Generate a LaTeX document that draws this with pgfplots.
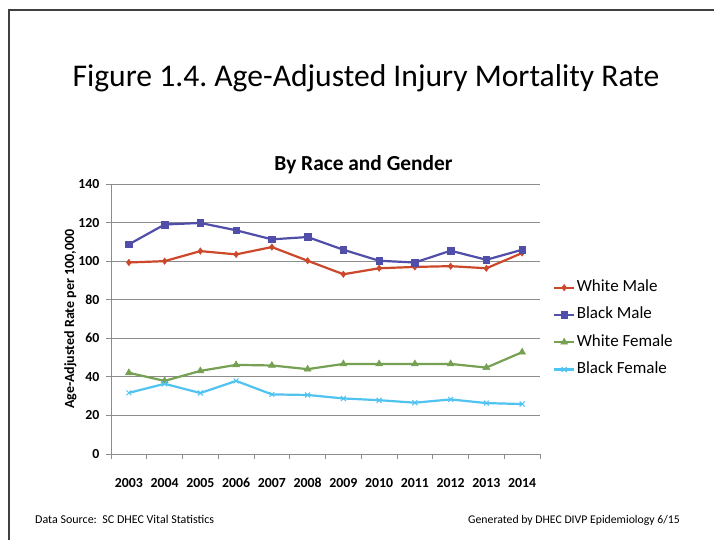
\documentclass[border=0pt]{standalone}
\usepackage{pgfplots}
\pgfplotsset{compat=1.18}
\usepackage{fontspec}
\setmainfont{Carlito}
\frenchspacing
\definecolor{wm}{RGB}{205,72,42}
\definecolor{bm}{RGB}{80,78,168}
\definecolor{wf}{RGB}{118,160,82}
\definecolor{bf}{RGB}{80,195,240}
\definecolor{gridc}{RGB}{140,140,140}
\pgfplotstableread{
x wm bm wf bf
0 99.3 108.7 42.1 31.7
1 100.0 119.0 37.9 36.4
2 105.2 119.8 43.1 31.6
3 103.5 116.0 46.2 37.9
4 107.3 111.3 45.9 30.9
5 100.2 112.5 44.0 30.6
6 93.2 105.9 46.7 28.8
7 96.3 100.2 46.7 27.9
8 97.0 99.3 46.7 26.6
9 97.4 105.4 46.7 28.3
10 96.3 100.7 44.8 26.4
11 104.2 105.9 52.8 25.9
}\datatable
\begin{document}
\begin{tikzpicture}
\useasboundingbox (0pt,0pt) rectangle (714pt,540pt);
\fill[white] (0pt,0pt) rectangle (714pt,540pt);
\draw[line width=1.2pt, black!75] (9pt,0pt) -- (9pt,530pt) -- (714pt,530pt);
\node[anchor=base, inner sep=0pt, font=\fontsize{31.6}{38}\selectfont] at (366pt,453pt) {Figure 1.4. Age-Adjusted Injury Mortality Rate};
\node[anchor=base, inner sep=0pt, font=\fontsize{21.4}{25}\selectfont\bfseries] at (363.5pt,369pt) {By Race and Gender};
\node[anchor=base west, inner sep=0pt, font=\fontsize{12}{14}\selectfont] at (35pt,16pt) {Data Source:\ \ SC DHEC Vital Statistics};
\node[anchor=base east, inner sep=0pt, font=\fontsize{11.75}{14}\selectfont] at (680pt,16pt) {Generated by DHEC DIVP Epidemiology 6/15};
\begin{axis}[
  at={(111pt,86pt)}, anchor=south west,
  scale only axis, width=429pt, height=270pt,
  xmin=-0.5, xmax=11.5, ymin=0, ymax=140,
  ytick={0,20,...,140},
  xtick={0,...,11},
  xticklabels={2003,2004,2005,2006,2007,2008,2009,2010,2011,2012,2013,2014},
  minor xtick={-0.5,0.5,...,11.5},
  axis x line*=bottom, axis y line*=left,
  axis line style={gridc, line width=0.8pt},
  ymajorgrids, grid style={gridc, line width=0.8pt},
  tick align=outside,
  major tick length=5pt, minor tick length=5pt,
  major x tick style={draw=none},
  minor x tick style={gridc, line width=0.8pt},
  ytick style={gridc, line width=0.8pt},
  /pgf/number format/assume math mode=true,
  ticklabel style={font=\fontsize{13.8}{16}\selectfont\bfseries},
  xticklabel style={yshift=-15pt, text height=9.5pt, text depth=0pt},
  yticklabel style={xshift=-3pt},
  ylabel={Age-Adjusted Rate per 100,000},
  ylabel style={at={(axis description cs:-0.0862,0.5)}, anchor=base, font=\fontsize{14}{16}\selectfont\bfseries},
  legend style={at={(axis description cs:1.03,0.4645)}, anchor=west, draw=none, fill=none,
    font=\fontsize{17}{20}\selectfont, row sep=8.3pt, inner sep=0pt,
    nodes={inner sep=1.5pt, text height=12pt, text depth=4pt}},
  legend cell align=left,
  legend image code/.code={\draw[#1, mark repeat=2, mark phase=2] plot coordinates {(0pt,0pt) (10pt,0pt) (20pt,0pt)};},
  every axis plot/.append style={line width=2.2pt},
]
\addplot[wm, mark=diamond*, mark size=3.2pt, mark options={line width=0.5pt}] table[x=x,y=wm] {\datatable};
\addlegendentry{White Male}
\addplot[bm, mark=square*, mark size=3.3pt, mark options={line width=0.5pt}] table[x=x,y=bm] {\datatable};
\addlegendentry{Black Male}
\addplot[wf, mark=triangle*, mark size=4pt, mark options={line width=0.5pt}] table[x=x,y=wf] {\datatable};
\addlegendentry{White Female}
\addplot[bf, mark=x, mark size=3.5pt, mark options={line width=1pt}] table[x=x,y=bf] {\datatable};
\addlegendentry{Black Female}
\end{axis}
\end{tikzpicture}
\end{document}
